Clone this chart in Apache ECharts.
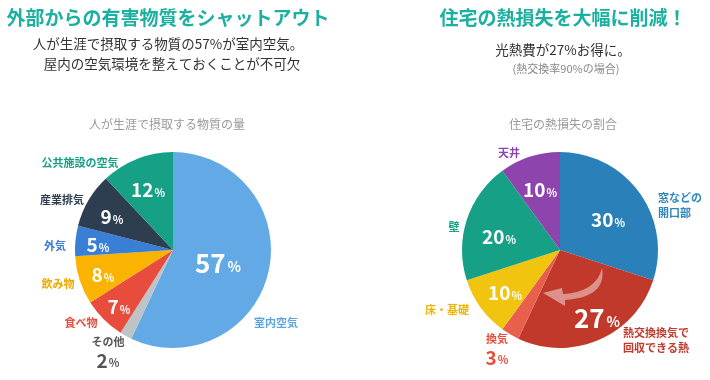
<!DOCTYPE html>
<html><head><meta charset="utf-8">
<script src="https://cdn.jsdelivr.net/npm/echarts@6/dist/echarts.min.js"></script>
<style>html,body{margin:0;padding:0;background:#fff}#c{width:710px;height:380px}</style>
</head><body><div id="c"></div>
<script>
// ---- data ----
const leftCategories = ['室内空気','その他','食べ物','飲み物','外気','産業排気','公共施設の空気'];
const leftValues = [57, 2, 7, 8, 5, 9, 12];
const rightCategories = ['窓などの開口部','熱交換換気で回収できる熱','換気','床・基礎','壁','天井'];
const rightValues = [30, 27, 3, 10, 20, 10];

// ---- styles / layout ----
const FONT = "'Noto Sans CJK JP', 'Noto Sans', sans-serif";
const TEAL = '#1bb0a0';
const leftColors = ['#62a9e6','#bdc3c7','#e74c3c','#fab400','#3a7fd6','#2c3e50','#16a085'];
const leftLabelColors = ['#5aa5e2','#555','#e74c3c','#f0a800','#3a7bd5','#2c3e50','#16a085'];
const rightColors = ['#2a80b9','#c0392b','#e8604c','#f1c40f','#16a085','#8e44ad'];
const rightLabelColors = ['#2e86c1','#c0392b','#e74c3c','#f0b400','#16a085','#8e44ad'];
const leftDisplay = ['室内空気','その他','食べ物','飲み物','外気','産業排気','公共施設の空気'];
const rightDisplay = ['窓などの\n開口部','熱交換換気で\n回収できる熱','換気','床・基礎','壁','天井'];
const bigIdx = {left: 0, right: 1};
const noInner = {left: [1], right: [2]};
const L = {cx: 173, cy: 250, r: 98};
const R = {cx: 560, cy: 250, r: 98};
// label offsets from pie center
const leftInnerPos = [[45,13],[0,0],[-54,57],[-70,25],[-75,-5],[-61,-33],[-25,-60]];
const leftOuterPos = [[103,73,'center'],[-65,103,'center'],[-92,73,'center'],[-115,34,'center'],[-118,-4,'center'],[-111,-50,'center'],[-93,-87,'center']];
const rightInnerPos = [[48,-30],[37,68],[0,0],[-55,43],[-61,-13],[-20,-60]];
const rightOuterPos = [[98,-45,'left'],[63,90,'left'],[-63,100,'center'],[-113,60,'center'],[-106,-23,'center'],[-51,-97,'center']];

function innerSeries(cats, vals, colors, C, pos, side){
  return {
    type:'pie', center:[C.cx, C.cy], radius:[0, C.r], startAngle:90, clockwise:true,
    avoidLabelOverlap:false, silent:true,
    itemStyle:{borderWidth:0},
    label:{show:true, position:'inside', fontFamily:FONT, color:'#fff',
      formatter: p => '{v|'+p.value+'}{p|%}',
      rich:{v:{fontSize:19,fontWeight:'bold',color:'#fff',fontFamily:FONT},
            p:{fontSize:11,fontWeight:'bold',color:'#fff',fontFamily:FONT,padding:[5,0,0,1]}}},
    labelLine:{show:false},
    labelLayout: p => ({x: C.cx + pos[p.dataIndex][0], y: C.cy + pos[p.dataIndex][1], align:'center', verticalAlign:'middle'}),
    data: cats.map((c,i)=>{
      const d = {name:c, value:vals[i], itemStyle:{color:colors[i]}};
      if (noInner[side].indexOf(i) >= 0) d.label = {show:false};
      if (bigIdx[side] === i) d.label = {rich:{v:{fontSize:26,fontWeight:'bold',color:'#fff',fontFamily:FONT},
            p:{fontSize:14,fontWeight:'bold',color:'#fff',fontFamily:FONT,padding:[7,0,0,2]}}};
      return d;
    })
  };
}
function outerSeries(cats, vals, display, lcolors, C, pos, side){
  return {
    type:'pie', center:[C.cx, C.cy], radius:[0, C.r], startAngle:90, clockwise:true,
    avoidLabelOverlap:false, silent:true, z:3,
    itemStyle:{color:'rgba(0,0,0,0)', borderWidth:0},
    label:{show:true, position:'outside', fontFamily:FONT, fontSize:11, fontWeight:'bold', lineHeight:15},
    labelLine:{show:false},
    labelLayout: p => ({x: C.cx + pos[p.dataIndex][0], y: C.cy + pos[p.dataIndex][1], align: pos[p.dataIndex][2], verticalAlign:'middle'}),
    data: cats.map((c,i)=>{
      const withVal = noInner[side].indexOf(i) >= 0;
      return {name:c, value:vals[i],
        label:{color:lcolors[i],
          formatter: withVal ? display[i] + '\n{v|' + vals[i] + '}{p|%}' : display[i],
          rich:{v:{fontSize:19,fontWeight:'bold',color:lcolors[i],fontFamily:FONT,lineHeight:22},
                p:{fontSize:11,fontWeight:'bold',color:lcolors[i],fontFamily:FONT,padding:[5,0,0,1]}}}};
    })
  };
}

// decorative curved arrow inside the 27% slice (relative to right pie centre)
function quad(p0, c, p1, n){
  const pts = [];
  for (let k = 0; k <= n; k++){
    const t = k / n, a = (1-t)*(1-t), b = 2*(1-t)*t, d = t*t;
    pts.push([a*p0[0]+b*c[0]+d*p1[0], a*p0[1]+b*c[1]+d*p1[1]]);
  }
  return pts;
}
const arrowPts = [].concat(
  quad([42,18],[47,47],[5,50],16),
  [[5,56],[-17,43],[2,38]],
  quad([3,44],[36,42],[42,18],16)
);

const chart = echarts.init(document.getElementById('c'), null, {renderer:'canvas'});
function txt(text, x, y, size, color, weight){
  return {type:'text', x:x, y:y, style:{text:text, font:(weight||'normal')+' '+size+'px '+FONT, fill:color, textAlign:'center', textVerticalAlign:'middle'}};
}
chart.setOption({
  animation:false,
  graphic:[
    txt('外部からの有害物質をシャットアウト', 168, 18, 19, TEAL, 'bold'),
    txt('人が生涯で摂取する物質の57%が室内空気。', 168, 44, 13.5, '#333'),
    txt('屋内の空気環境を整えておくことが不可欠', 172, 64, 13.5, '#333'),
    txt('人が生涯で摂取する物質の量', 167, 124, 12, '#999'),
    txt('住宅の熱損失を大幅に削減！', 563, 18, 19, TEAL, 'bold'),
    txt('光熱費が27%お得に。', 563, 50, 13.5, '#333'),
    txt('(熱交換率90%の場合)', 566, 69, 11, '#888'),
    txt('住宅の熱損失の割合', 563, 124, 12, '#999'),
    {type:'polygon', x:R.cx, y:R.cy, z:10,
     shape:{points: arrowPts},
     style:{fill:'rgba(255,255,255,0.45)'}}
  ],
  series:[
    innerSeries(leftCategories, leftValues, leftColors, L, leftInnerPos, 'left'),
    outerSeries(leftCategories, leftValues, leftDisplay, leftLabelColors, L, leftOuterPos, 'left'),
    innerSeries(rightCategories, rightValues, rightColors, R, rightInnerPos, 'right'),
    outerSeries(rightCategories, rightValues, rightDisplay, rightLabelColors, R, rightOuterPos, 'right')
  ]
});
</script></body></html>
